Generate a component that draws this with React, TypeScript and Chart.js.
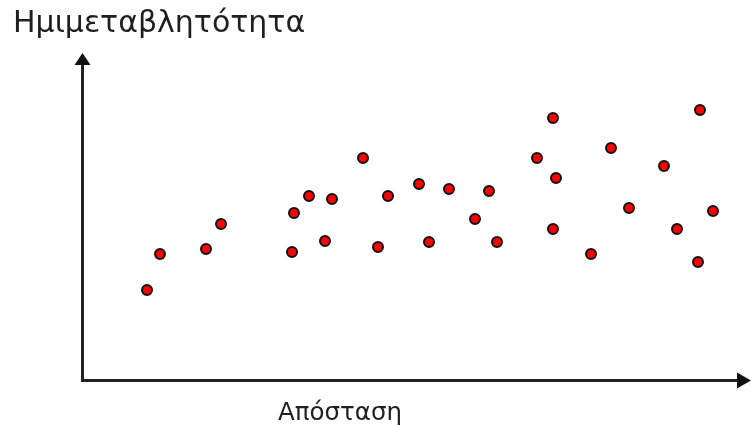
import React, { useEffect, useRef } from "react";
import { Chart, registerables } from "chart.js";

Chart.register(...registerables);

// Data (arbitrary units: distance vs semivariance)
const distance = [6.5, 7.8, 12.4, 13.9, 21.0, 21.2, 22.7, 24.3, 25.0, 28.1, 29.6, 30.6, 33.7, 34.7, 36.7, 39.3, 40.7, 41.5, 45.5, 47.1, 47.1, 47.4, 50.9, 52.9, 54.7, 58.2, 59.5, 61.6, 61.8, 63.1];
const semivariance = [9.0, 12.6, 13.1, 15.6, 12.8, 16.7, 18.4, 13.9, 18.1, 22.2, 13.3, 18.4, 19.6, 13.8, 19.1, 16.1, 18.9, 13.8, 22.2, 26.2, 15.1, 20.2, 12.6, 23.2, 17.2, 21.4, 15.1, 11.8, 27.0, 16.9];

const titleText = "Ημιμεταβλητότητα";
const xLabelText = "Απόσταση";

const axesPlugin = {
  id: "arrowAxes",
  beforeDatasetsDraw(chart: any) {
    const { ctx, chartArea } = chart;
    const { left, right, top, bottom } = chartArea;
    ctx.save();
    ctx.strokeStyle = "#222";
    ctx.fillStyle = "#111";
    ctx.lineWidth = 3;
    ctx.lineCap = "butt";
    // y axis
    ctx.beginPath();
    ctx.moveTo(left + 0.5, bottom + 1.5);
    ctx.lineTo(left + 0.5, top + 8);
    ctx.stroke();
    // x axis
    ctx.beginPath();
    ctx.moveTo(left - 1, bottom + 0.5);
    ctx.lineTo(right - 8, bottom + 0.5);
    ctx.stroke();
    // y arrow head
    ctx.beginPath();
    ctx.moveTo(left + 0.5, top);
    ctx.lineTo(left + 0.5 + 8, top + 12);
    ctx.lineTo(left + 0.5 - 8, top + 12);
    ctx.closePath();
    ctx.fill();
    // x arrow head
    ctx.beginPath();
    ctx.moveTo(right, bottom + 0.5);
    ctx.lineTo(right - 14, bottom + 0.5 - 8);
    ctx.lineTo(right - 14, bottom + 0.5 + 8);
    ctx.closePath();
    ctx.fill();
    // x label
    ctx.fillStyle = "#1f1f1f";
    ctx.font = "24.5px 'DejaVu Sans'";
    ctx.textBaseline = "alphabetic";
    ctx.textAlign = "left";
    ctx.fillText(xLabelText, left + 196, bottom + 40);
    ctx.restore();
  },
};

export default function App() {
  const ref = useRef<HTMLCanvasElement | null>(null);
  useEffect(() => {
    if (!ref.current) return;
    const chart = new Chart(ref.current, {
      type: "scatter",
      data: {
        datasets: [
          {
            data: distance.map((x, i) => ({ x, y: semivariance[i] })),
            backgroundColor: "#ff0000",
            borderColor: "#111",
            borderWidth: 2,
            pointRadius: 5,
          },
        ],
      },
      options: {
        animation: false,
        responsive: false,
        layout: { autoPadding: false, padding: { left: 13, right: 0, top: 0, bottom: 0 } },
        plugins: {
          legend: { display: false },
          tooltip: { enabled: false },
          title: {
            display: true,
            text: titleText,
            align: "start",
            color: "#1f1f1f",
            font: { family: "'DejaVu Sans'", size: 30, weight: "normal", lineHeight: 1.2 },
            padding: { top: 6, bottom: 11 },
          },
        },
        scales: {
          x: {
            type: "linear",
            min: 0,
            max: 66.9,
            grid: { display: false },
            border: { display: false },
            ticks: { display: false },
            afterFit: (s: any) => {
              s.height = 46;
            },
          },
          y: {
            type: "linear",
            min: 0,
            max: 32.7,
            grid: { display: false },
            border: { display: false },
            ticks: { display: false },
            afterFit: (s: any) => {
              s.width = 69;
            },
          },
        },
      },
      plugins: [axesPlugin],
    });
    return () => chart.destroy();
  }, []);
  return (
    <div style={{ position: "absolute", left: 0, top: 0, width: 751, height: 426, background: "#fff" }}>
      <canvas ref={ref} width={751} height={426} />
    </div>
  );
}
